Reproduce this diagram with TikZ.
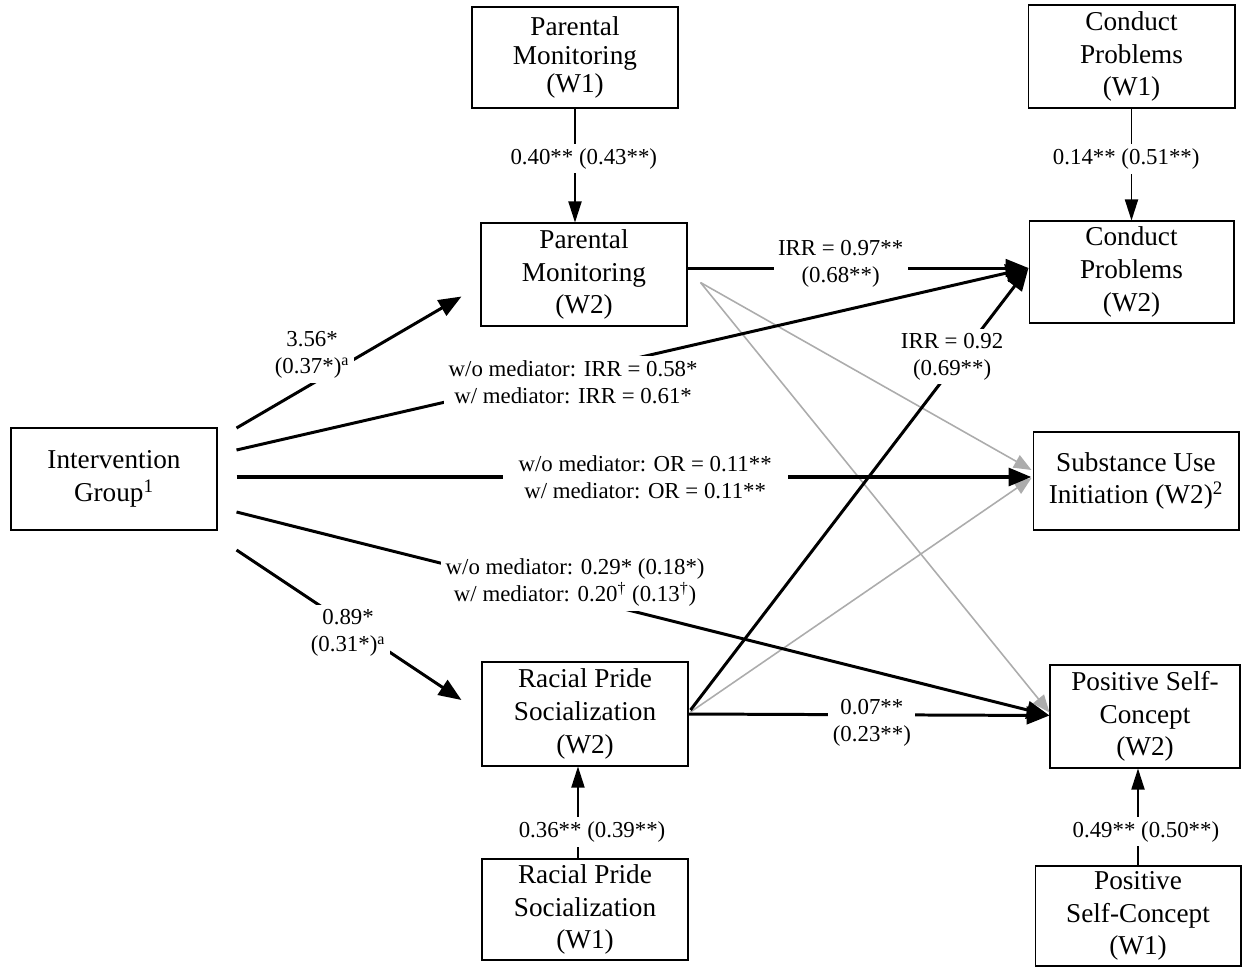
\documentclass[tikz,border=0pt]{standalone}
\usepackage{fontspec}
\setmainfont{Liberation Serif}
\usetikzlibrary{arrows.meta}
\newcommand{\boxfont}{\fontsize{15.5pt}{18.6pt}\selectfont}
\newcommand{\tightboxfont}{\fontsize{15.5pt}{16.2pt}\selectfont}
\newcommand{\lblfont}{\fontsize{13pt}{15.3pt}\selectfont}
\begin{document}
\begin{tikzpicture}[x=0.02cm,y=-0.02cm,
  box/.style={draw, line width=0.6pt, align=center, font=\boxfont, inner sep=0pt},
  lbl/.style={fill=white, align=center, font=\lblfont, inner sep=2.5pt},
  mainline/.style={line width=1.7pt, -{Triangle[length=13pt,width=10pt]}},
  heavyline/.style={line width=2.4pt, -{Triangle[length=13pt,width=10pt]}},
  vline/.style={line width=0.8pt, -{Triangle[length=12pt,width=7.5pt]}},
  gline/.style={gray!65, line width=0.9pt, -{Triangle[length=10pt,width=8pt]}}
]
\useasboundingbox (0,0) rectangle (1242,968);

% boxes
\node[box, font=\tightboxfont, minimum width=4.12cm, minimum height=2.02cm] (pm1) at (575,57.5) {Parental\\Monitoring\\(W1)};
\node[box, minimum width=4.14cm, minimum height=2.06cm] (cp1) at (1131.5,56.5) {Conduct\\Problems\\(W1)};
\node[box, minimum width=4.12cm, minimum height=2.06cm] (pm2) at (584,274.5) {Parental\\Monitoring\\(W2)};
\node[box, minimum width=4.10cm, minimum height=2.04cm] (cp2) at (1131.5,272) {Conduct\\Problems\\(W2)};
\node[box, minimum width=4.12cm, minimum height=2.04cm] (ig) at (114,479) {Intervention\\Group\textsuperscript{1}};
\node[box, minimum width=4.12cm, minimum height=1.96cm] (su) at (1136,481) {Substance Use\\Initiation (W2)\textsuperscript{2}};
\node[box, minimum width=4.12cm, minimum height=2.08cm] (rps2) at (585,714) {Racial Pride\\Socialization\\(W2)};
\node[box, minimum width=3.80cm, minimum height=2.06cm] (psc2) at (1145,716.5) {Positive Self-\\Concept\\(W2)};
\node[box, minimum width=4.12cm, minimum height=2.02cm] (rps1) at (585,909.5) {Racial Pride\\Socialization\\(W1)};
\node[box, minimum width=4.12cm, minimum height=2.00cm] (psc1) at (1138,916) {Positive\\Self-Concept\\(W1)};

% gray paths
\draw[gline] ([shift={(13,8)}]pm2.east) -- ([shift={(-1,-11)}]su.west);
\draw[gline] ([shift={(13,8)}]pm2.east) -- ([shift={(0,-4)}]psc2.west);
\draw[gline] ([shift={(2,-2)}]rps2.east) -- ([shift={(-1,-3)}]su.west);

% stability paths
\draw[vline] (pm1.south) -- node[lbl, pos=0.44, xshift=5pt] {0.40** (0.43**)} (pm1.south |- pm2.north);
\draw[vline] (cp1.south) -- node[lbl, pos=0.45, xshift=-3pt] {0.14** (0.51**)} (cp1.south |- cp2.north);
\draw[vline] ([xshift=-4]rps1.north) -- node[lbl, pos=0.29, xshift=8pt] {0.36** (0.39**)} ([xshift=-4]rps1.north |- rps2.south);
\draw[vline] (psc1.north) -- node[lbl, pos=0.35, xshift=4.5pt] {0.49** (0.50**)} (psc1.north |- psc2.south);

% mediator paths
\draw[mainline] ([shift={(2,-4)}]rps2.east) -- node[lbl, pos=0.80, xshift=-5pt] {IRR = 0.92\\(0.69**)} ([shift={(0,-4)}]cp2.west);
\draw[mainline] ([shift={(0,-6.5)}]pm2.east) -- node[lbl, pos=0.449, yshift=2.5pt] {IRR = 0.97**\\(0.68**)} ([shift={(0,-4)}]cp2.west);
\draw[mainline] (rps2.east) -- node[lbl, pos=0.508, yshift=-4.5pt] {0.07**\\(0.23**)} ([shift={(0,-1)}]psc2.west);

% intervention paths
\draw[mainline] ([shift={(19,-51)}]ig.east) -- node[lbl, pos=0.336, yshift=16.5pt, xshift=0pt] {3.56*\\(0.37*)\textsuperscript{a}} ([shift={(-19,22)}]pm2.west);
\draw[mainline] ([shift={(19,-29)}]ig.east) -- node[lbl, pos=0.425, yshift=-5.5pt] {w/o mediator: IRR = 0.58*\\w/ mediator: IRR = 0.61*} ([shift={(0,-4)}]cp2.west);
\draw[heavyline] ([shift={(19,-2)}]ig.east) -- node[lbl, pos=0.514, inner xsep=9pt] {w/o mediator: OR = 0.11**\\w/ mediator: OR = 0.11**} ([shift={(-1,-4)}]su.west);
\draw[mainline] ([shift={(19,33)}]ig.east) -- node[lbl, pos=0.4165, yshift=8.2pt] {w/o mediator: 0.29* (0.18*)\\w/ mediator: 0.20\textsuperscript{†} (0.13\textsuperscript{†})} ([shift={(0,-1)}]psc2.west);
\draw[mainline] ([shift={(19,71)}]ig.east) -- node[lbl, pos=0.496, yshift=-5pt] {0.89*\\(0.31*)\textsuperscript{a}} ([shift={(-20,-14)}]rps2.west);
\end{tikzpicture}
\end{document}
